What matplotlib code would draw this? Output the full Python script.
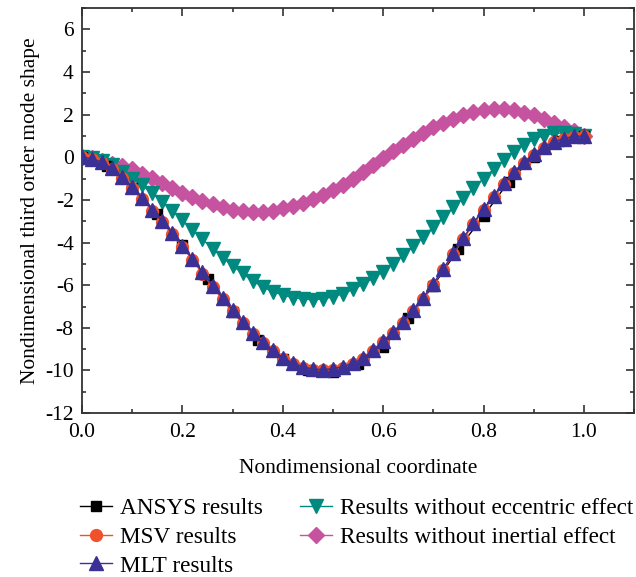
import numpy as np
import matplotlib.pyplot as plt
from matplotlib.ticker import MultipleLocator

plt.rcParams['font.family'] = ['Liberation Serif', 'DejaVu Serif']
plt.rcParams['axes.unicode_minus'] = False

# ANSYS nodes every 0.05
x_ansys = [0.00, 0.05, 0.10, 0.15, 0.20, 0.25, 0.30, 0.35, 0.40, 0.45, 0.50,
           0.55, 0.60, 0.65, 0.70, 0.75, 0.80, 0.85, 0.90, 0.95, 1.00]
y_ansys = [0.00, -0.42, -1.45, -2.65, -4.12, -5.72, -7.25, -8.55, -9.45, -9.98, -10.05,
           -9.70, -8.90, -7.55, -6.02, -4.30, -2.75, -1.15, 0.00, 0.75, 1.00]

# analytical results every 0.02
x_fine = [0.00, 0.02, 0.04, 0.06, 0.08, 0.10, 0.12, 0.14, 0.16, 0.18,
          0.20, 0.22, 0.24, 0.26, 0.28, 0.30, 0.32, 0.34, 0.36, 0.38,
          0.40, 0.42, 0.44, 0.46, 0.48, 0.50, 0.52, 0.54, 0.56, 0.58,
          0.60, 0.62, 0.64, 0.66, 0.68, 0.70, 0.72, 0.74, 0.76, 0.78,
          0.80, 0.82, 0.84, 0.86, 0.88, 0.90, 0.92, 0.94, 0.96, 0.98, 1.00]

y_msv = [0.00, -0.08, -0.27, -0.56, -0.96, -1.44, -1.96, -2.50, -3.05, -3.62,
         -4.20, -4.82, -5.46, -6.08, -6.66, -7.22, -7.78, -8.27, -8.71, -9.10,
         -9.44, -9.69, -9.87, -9.97, -10.00, -9.96, -9.86, -9.70, -9.46, -9.10,
         -8.67, -8.25, -7.77, -7.23, -6.63, -5.97, -5.27, -4.55, -3.83, -3.13,
         -2.47, -1.85, -1.27, -0.75, -0.29, 0.12, 0.45, 0.70, 0.87, 0.97, 1.00]

y_mlt = [0.00, -0.06, -0.24, -0.52, -0.92, -1.40, -1.92, -2.45, -3.00, -3.56,
         -4.14, -4.76, -5.40, -6.02, -6.60, -7.18, -7.74, -8.22, -8.66, -9.06,
         -9.40, -9.65, -9.83, -9.93, -9.96, -9.92, -9.82, -9.66, -9.42, -9.06,
         -8.62, -8.20, -7.72, -7.18, -6.58, -5.92, -5.22, -4.50, -3.78, -3.08,
         -2.42, -1.80, -1.22, -0.70, -0.24, 0.16, 0.48, 0.72, 0.88, 0.98, 1.00]

y_no_ecc = [0.00, -0.05, -0.18, -0.38, -0.68, -1.02, -1.32, -1.68, -2.08, -2.52,
            -2.95, -3.40, -3.85, -4.28, -4.70, -5.08, -5.45, -5.80, -6.08, -6.30,
            -6.46, -6.58, -6.65, -6.68, -6.64, -6.55, -6.40, -6.20, -5.95, -5.66,
            -5.36, -5.00, -4.60, -4.18, -3.72, -3.26, -2.80, -2.34, -1.90, -1.44,
            -1.00, -0.56, -0.14, 0.24, 0.58, 0.84, 1.02, 1.12, 1.14, 1.10, 1.02]

y_no_inertia = [0.00, -0.05, -0.17, -0.30, -0.42, -0.57, -0.76, -0.96, -1.22, -1.44,
                -1.66, -1.87, -2.05, -2.20, -2.35, -2.45, -2.52, -2.56, -2.56, -2.50,
                -2.40, -2.28, -2.14, -1.95, -1.75, -1.52, -1.28, -1.00, -0.68, -0.35,
                -0.03, 0.28, 0.58, 0.88, 1.14, 1.40, 1.62, 1.82, 2.00, 2.12,
                2.22, 2.27, 2.27, 2.20, 2.10, 1.98, 1.82, 1.62, 1.44, 1.22, 1.00]

fig = plt.figure(figsize=(6.36, 5.77), dpi=100)
ax = fig.add_axes([0.129, 0.284, 0.868, 0.702])

ax.plot(x_fine, y_no_inertia, color='#c653a0', marker='D', markersize=8, lw=1,
        label='Results without inertial effect', zorder=2)
ax.plot(x_fine, y_no_ecc, color='#00897e', marker='v', markersize=9.5, lw=1,
        label='Results without eccentric effect', zorder=3)
ax.plot(x_ansys, y_ansys, color='black', marker='s', markersize=7, lw=1,
        label='ANSYS results', zorder=4)
ax.plot(x_fine, y_msv, color='#f0502a', marker='o', markersize=8.5, lw=1,
        label='MSV results', zorder=5)
ax.plot(x_fine, y_mlt, color='#3a3095', marker='^', markersize=9.5, lw=1,
        label='MLT results', zorder=6)

ax.set_xlim(0, 1.1)
ax.set_ylim(-12, 7)
ax.xaxis.set_minor_locator(MultipleLocator(0.1))
ax.yaxis.set_minor_locator(MultipleLocator(1))
ax.set_xticks([0.0, 0.2, 0.4, 0.6, 0.8, 1.0])
ax.set_xticklabels(['0.0', '0.2', '0.4', '0.6', '0.8', '1.0'])
ax.set_yticks([-12, -10, -8, -6, -4, -2, 0, 2, 4, 6])
ax.tick_params(which='both', direction='in', top=True, right=True,
               labelsize=15.5, color='#333333', width=1.2)
ax.tick_params(which='major', length=6)
ax.tick_params(axis='x', which='major', pad=7)
ax.tick_params(axis='y', which='major', pad=6)
ax.tick_params(which='minor', length=3)
for s in ax.spines.values():
    s.set_linewidth(1.3)
    s.set_color('#333333')

ax.set_xlabel('Nondimensional coordinate', fontsize=15.5, labelpad=12)
ax.set_ylabel('Nondimensional third order mode shape', fontsize=15.5, labelpad=4)

h, l = ax.get_legend_handles_labels()
order = [2, 3, 4, 1, 0]
fig.legend([h[i] for i in order], [l[i] for i in order], ncol=2, frameon=False,
           loc='upper left', bbox_to_anchor=(0.111, 0.1534), fontsize=16.75,
           handlelength=1.37, handletextpad=0.34, columnspacing=1.6,
           labelspacing=0.32, borderaxespad=0)

fig.savefig('out.png', dpi=100)
